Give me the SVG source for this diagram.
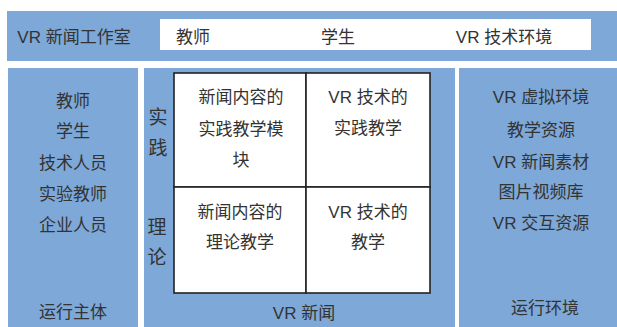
<svg xmlns="http://www.w3.org/2000/svg" width="617" height="327" viewBox="0 0 617 327">
<style>
.panel{fill:#7DA8D7;}
.white{fill:#FFFFFF;}
.cell{fill:#FFFFFF;stroke:#222222;stroke-width:1.6;}
text{font-family:"Liberation Sans","Noto Sans CJK SC",sans-serif;font-size:17px;fill:#333333;text-anchor:middle;dominant-baseline:central;}
.big{font-size:19px;}
</style>
<rect width="617" height="327" fill="#FFFFFF"/>
<g id="top-bar">
<rect class="panel" x="7" y="11" width="610" height="50"/>
<rect class="white" x="160" y="19" width="431" height="31"/>
<text x="74" y="37">VR 新闻工作室</text>
<text x="193" y="37">教师</text>
<text x="338" y="37">学生</text>
<text x="504" y="37">VR 技术环境</text>
</g>
<g id="left-panel">
<rect class="panel" x="8" y="68" width="130" height="259"/>
<text x="73" y="101">教师</text>
<text x="73" y="131">学生</text>
<text x="73" y="163">技术人员</text>
<text x="73" y="194">实验教师</text>
<text x="73" y="225">企业人员</text>
<text x="73" y="312">运行主体</text>
</g>
<g id="middle-panel">
<rect class="panel" x="144" y="68" width="311" height="259"/>
<text class="big" x="158" y="117">实</text>
<text class="big" x="158" y="148">践</text>
<text class="big" x="157" y="227">理</text>
<text class="big" x="157" y="257">论</text>
<text x="304" y="313">VR 新闻</text>
</g>
<g id="cell-practice-news">
<rect class="cell" x="174" y="73" width="132" height="114"/>
<text x="241" y="97">新闻内容的</text>
<text x="241" y="129">实践教学模</text>
<text x="241" y="160">块</text>
</g>
<g id="cell-practice-vr">
<rect class="cell" x="306" y="73" width="124" height="114"/>
<text x="368" y="97">VR 技术的</text>
<text x="368" y="128">实践教学</text>
</g>
<g id="cell-theory-news">
<rect class="cell" x="174" y="187" width="132" height="106"/>
<text x="240" y="212">新闻内容的</text>
<text x="240" y="242">理论教学</text>
</g>
<g id="cell-theory-vr">
<rect class="cell" x="306" y="187" width="124" height="106"/>
<text x="368" y="212">VR 技术的</text>
<text x="368" y="242">教学</text>
</g>
<g id="right-panel">
<rect class="panel" x="459" y="68" width="158" height="259"/>
<text x="541" y="97">VR 虚拟环境</text>
<text x="541" y="130">教学资源</text>
<text x="541" y="162">VR 新闻素材</text>
<text x="541" y="192">图片视频库</text>
<text x="541" y="223">VR 交互资源</text>
<text x="545" y="308">运行环境</text>
</g>
<g id="connectors"></g>
</svg>
